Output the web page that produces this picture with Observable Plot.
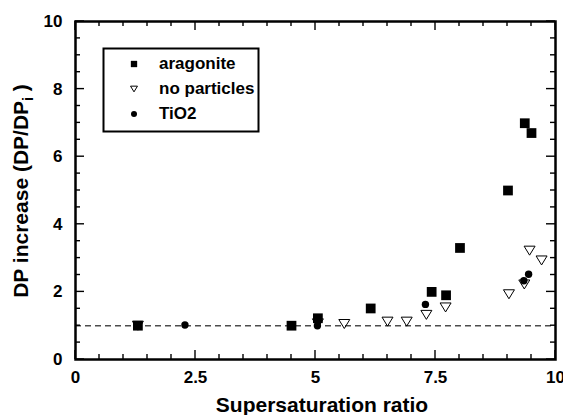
<!DOCTYPE html>
<html><head><meta charset="utf-8">
<script src="https://cdn.jsdelivr.net/npm/d3@7"></script>
<script src="https://cdn.jsdelivr.net/npm/@observablehq/plot@0.6"></script>
<style>body{margin:0;background:#fff} svg{overflow:visible}</style>
</head><body><div id="chart"></div>
<script>
// ---- data ----
const seriesNames = ["aragonite", "no particles", "TiO2"];
const aragoniteX = [1.3, 4.5, 5.05, 6.15, 7.42, 7.72, 8.01, 9.01, 9.36, 9.5];
const aragoniteY = [1.0, 1.0, 1.22, 1.51, 2.0, 1.9, 3.3, 5.0, 6.99, 6.7];
const noParticlesX = [1.3, 5.05, 5.6, 6.5, 6.9, 7.31, 7.71, 9.03, 9.35, 9.46, 9.71];
const noParticlesY = [1.0, 1.07, 1.05, 1.12, 1.12, 1.32, 1.54, 1.93, 2.22, 3.22, 2.93];
const tio2X = [2.28, 5.04, 7.29, 9.34, 9.44];
const tio2Y = [1.02, 1.0, 1.63, 2.33, 2.52];
const baseline = [1];
const xMajor = [0, 2.5, 5, 7.5, 10];
const xMinor = [0.5, 1, 1.5, 2, 3, 3.5, 4, 4.5, 5.5, 6, 6.5, 7, 8, 8.5, 9, 9.5];
const yMajor = [0, 2, 4, 6, 8, 10];
const yMinor = [0.5, 1, 1.5, 2.5, 3, 3.5, 4.5, 5, 5.5, 6.5, 7, 7.5, 8.5, 9, 9.5];
const xTitle = "Supersaturation ratio";
const yTitleMain = "DP increase (DP/DP";
const yTitleSub = "i";
const yTitleEnd = " )";

const toPts = (xs, ys) => xs.map((x, i) => ({x, y: ys[i]}));
const aragonite = toPts(aragoniteX, aragoniteY);
const noParticles = toPts(noParticlesX, noParticlesY);
const tio2 = toPts(tio2X, tio2Y);

const triDown = {draw(ctx, size) {
  const r = Math.sqrt(size / Math.PI);
  const w = r * 1.1, h = r * 0.9;
  ctx.moveTo(-w, -h); ctx.lineTo(w, -h); ctx.lineTo(0, h); ctx.closePath();
}};

const FONT = "'Liberation Sans', Arial, Helvetica, sans-serif";

const chart = Plot.plot({
  width: 563, height: 415,
  marginLeft: 75, marginRight: 8, marginTop: 21, marginBottom: 56,
  x: {domain: [0, 10]},
  y: {domain: [0, 10]},
  style: {fontFamily: FONT, fontWeight: "bold", fontSize: "17px", color: "black", background: "white"},
  marks: [
    Plot.ruleY(baseline, {stroke: "#4d4d4d", strokeWidth: 1.5, strokeDasharray: "6,4"}),
    Plot.axisX(xMajor, {anchor: "bottom", tickSize: 0, tickPadding: 11, fontSize: 17, label: null, tickFormat: d => String(d)}),
    Plot.axisY(yMajor, {anchor: "left", tickSize: 0, tickPadding: 13, fontSize: 17, label: null, tickFormat: d => String(d)}),
    Plot.dot(aragonite, {x: "x", y: "y", symbol: "square", r: 5.5, fill: "black", stroke: "none"}),
    Plot.dot(noParticles, {x: "x", y: "y", symbol: triDown, r: 5, fill: "none", stroke: "black", strokeWidth: 1}),
    Plot.dot(tio2, {x: "x", y: "y", symbol: "circle", r: 3.7, fill: "black", stroke: "none"}),
    Plot.frame({stroke: "black", strokeWidth: 2.5})
  ]
});
document.getElementById("chart").appendChild(chart);

const sx = chart.scale("x"), sy = chart.scale("y");
const svg = d3.select(chart);
const [x0, x1] = sx.range, [y0, y1] = sy.range;

// inward ticks on all four sides, positioned by Plot's scales
const tk = svg.append("g").attr("stroke", "black").attr("stroke-width", 1.4);
const addX = (vals, len) => vals.forEach(v => {
  const px = sx.apply(v);
  tk.append("line").attr("x1", px).attr("x2", px).attr("y1", y0).attr("y2", y0 - len);
  tk.append("line").attr("x1", px).attr("x2", px).attr("y1", y1).attr("y2", y1 + len);
});
const addY = (vals, len) => vals.forEach(v => {
  const py = sy.apply(v);
  tk.append("line").attr("y1", py).attr("y2", py).attr("x1", x0).attr("x2", x0 + len);
  tk.append("line").attr("y1", py).attr("y2", py).attr("x1", x1).attr("x2", x1 - len);
});
addX(xMajor, 9); addX(xMinor, 5); addY(yMajor, 9); addY(yMinor, 5);

// axis titles
svg.append("text")
  .attr("x", 322).attr("y", 412)
  .attr("text-anchor", "middle")
  .attr("font-family", FONT).attr("font-weight", "bold").attr("font-size", 21)
  .attr("fill", "black")
  .text(xTitle);
const yt = svg.append("text")
  .attr("transform", "translate(28,191) rotate(-90)")
  .attr("text-anchor", "middle")
  .attr("font-family", FONT).attr("font-weight", "bold").attr("font-size", 21)
  .attr("fill", "black");
yt.append("tspan").text(yTitleMain);
yt.append("tspan").attr("font-size", 14).attr("dy", 5).text(yTitleSub);
yt.append("tspan").attr("dy", -5).text(yTitleEnd);

// legend
const lg = svg.append("g");
lg.append("rect").attr("x", 103.5).attr("y", 48.5).attr("width", 155).attr("height", 83)
  .attr("fill", "white").attr("stroke", "black").attr("stroke-width", 2);
const legendRows = [
  {name: seriesNames[0], sym: d3.symbol(d3.symbolSquare, 40)(), fill: "black", stroke: "none"},
  {name: seriesNames[1], sym: d3.symbol(triDown, Math.PI * 10)(), fill: "none", stroke: "black"},
  {name: seriesNames[2], sym: d3.symbol(d3.symbolCircle, Math.PI * 9)(), fill: "black", stroke: "none"}
];
const rowY = [63, 88, 113];
legendRows.forEach((r, i) => {
  lg.append("path").attr("d", r.sym).attr("transform", `translate(134,${rowY[i] + 1})`)
    .attr("fill", r.fill).attr("stroke", r.stroke).attr("stroke-width", 1);
  lg.append("text").attr("x", 159).attr("y", rowY[i]).attr("dy", "0.35em")
    .attr("text-anchor", "start")
    .attr("font-family", FONT).attr("font-weight", "bold").attr("font-size", 17)
    .attr("fill", "black").text(r.name);
});
</script>
</body></html>
